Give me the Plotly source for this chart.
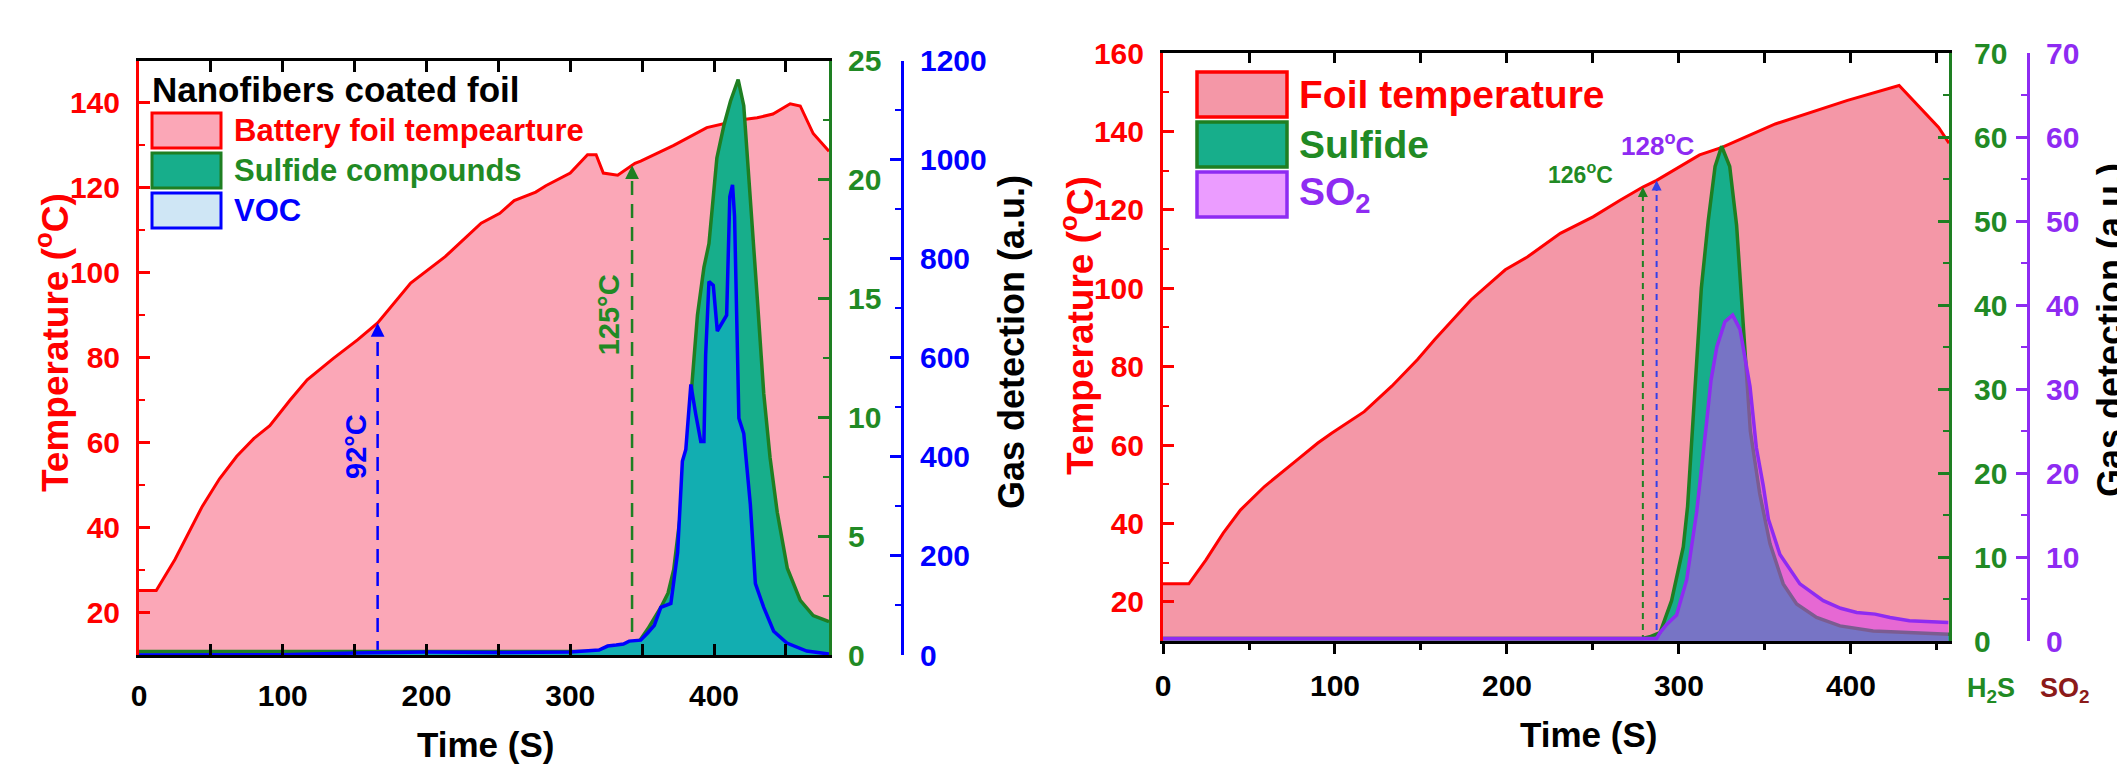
import numpy as np
import plotly.graph_objects as go

W, H = 2125, 776          # browser window
OFF = 8                   # default page body margin
FW, FH = W - OFF, H - OFF  # figure size so that it fits inside the window
FONT = "Liberation Sans, Arial, sans-serif"

# ---------------- data: left panel (nanofibers coated foil) ----------------
L_t_temp = [0, 12, 25, 35, 44, 56, 68, 80, 91, 105, 117, 135, 152, 166, 170, 189, 213, 238,
            251, 261, 276, 283, 300, 312, 318, 323, 333, 345, 349, 372, 395, 418, 430, 441,
            453, 460, 469, 480]
L_temp = [25.2, 25.2, 32.5, 39.0, 45.0, 51.5, 56.8, 61.0, 64.0, 70.0, 74.8, 79.8, 84.2, 88.2,
          89.8, 97.6, 103.8, 111.7, 114.0, 117.0, 119.0, 120.5, 123.5, 127.8, 127.8, 123.5,
          123.0, 125.8, 126.3, 130.0, 134.2, 136.0, 136.5, 137.4, 139.8, 139.3, 132.8, 128.6]

L_t_sulf = [0, 340, 343, 349, 354, 363, 368, 372, 379, 384, 388.5, 393, 396.5, 402, 407, 411.5,
            416.8, 420.7, 425, 430, 434.6, 439, 444, 451, 460, 469, 480]
L_sulf = [0.15, 0.15, 0.3, 0.66, 1.1, 2.0, 2.6, 3.6, 7.1, 11.0, 14.3, 16.3, 17.3, 20.9, 22.3,
          23.3, 24.2, 23.1, 19.6, 15.1, 11.0, 8.3, 6.0, 3.65, 2.3, 1.66, 1.4]

L_t_voc = [0, 100, 150, 200, 250, 300, 320, 326, 332, 337, 341, 349, 354, 358.5, 363, 370,
           374.7, 378, 380.4, 383.9, 387.3, 390.8, 393, 394.2, 396.5, 399.5, 402.3, 405.8,
           408.8, 411, 412.9, 414.3, 417.3, 420.7, 425.3, 428.8, 434.6, 441.5, 450.7, 464.5, 480]
L_voc = [0, 0.5, 4, 6, 5, 6, 10, 18, 20, 22, 28, 30, 45, 60, 96, 104, 207, 391, 415, 546, 486,
         431, 431, 606, 754, 746, 654, 670, 686, 925, 949, 885, 478, 447, 303, 144, 96, 48,
         24, 8, 2]

L_arrow_t = [166, 343]          # onset times marked by dashed arrows
L_arrow_label = ["92°C", "125°C"]

# ---------------- data: right panel ----------------
R_t_temp = [0, 15, 25, 35, 45, 59, 78, 90, 98, 117, 133, 148, 158, 179, 199, 212, 231, 250,
            266, 279, 287, 312, 325, 356, 398, 428, 451, 457]
R_temp = [24.6, 24.6, 30.7, 37.5, 43.4, 49.4, 56.2, 60.5, 63.0, 68.5, 75.0, 81.8, 86.9, 97.0,
          104.7, 108.0, 114.0, 118.2, 122.5, 125.8, 127.5, 134.0, 135.9, 141.9, 147.9, 151.7,
          141.0, 137.0]

R_t_sulf = [0, 279, 283, 289, 295.7, 302.5, 305, 307.4, 310, 313, 317, 321, 324.8, 329.5,
            333.5, 337.5, 341.5, 347, 352.9, 360.6, 368.4, 380, 393.6, 412.9, 432, 453.6, 457]
R_sulf = [0.3, 0.3, 0.5, 1.0, 4.8, 11.2, 16.0, 24.0, 32.0, 42.0, 50.0, 56.5, 58.9, 56.5, 49.5,
          37.5, 25.0, 17.5, 11.6, 6.8, 4.4, 2.8, 1.8, 1.2, 1.0, 0.8, 0.8]

R_t_so2 = [0, 287, 289, 293, 298.6, 304.5, 310.3, 313, 316.1, 318.6, 322, 326.7, 331.2, 335.5,
           339.5, 341.3, 345, 349, 352, 358.7, 370.3, 383.9, 394, 403.3, 414, 422.7, 434, 442,
           456.6]
R_so2 = [0.3, 0.3, 1.0, 2.0, 3.1, 7.3, 15.4, 20.0, 26.1, 31.0, 35.0, 38.0, 38.8, 37.1, 32.5,
         30.3, 23.0, 18.5, 14.5, 10.3, 6.8, 4.8, 3.9, 3.4, 3.2, 2.8, 2.4, 2.3, 2.2]

R_arrow_t = [279, 287]
R_arrow_label = ["126<sup>o</sup>C", "128<sup>o</sup>C"]

# ---------------- colours ----------------
RED = "#FF0000"
PINK_L = "#FBA7B7"
PINK_R = "#F497A7"
GREEN_LINE = "#1E7F22"
GREEN_TXT = "#218A24"
GREEN_FILL = "#17AE8B"
BLUE = "#0000FF"
VOC_FILL = "#12AEB1"
VOC_LEG = "#CFE6F5"
PURPLE = "#8E2BF2"
SO2_FILL = "rgba(215,58,255,0.5)"
DARKRED = "#8B1A1A"
ARROW_BLUE = "#3340E8"

TICK_SIZE = 30


def px(x):
    """window pixel x -> paper fraction"""
    return (x - OFF) / FW


def py(y):
    """window pixel y (from top) -> paper fraction"""
    return 1 - (y - OFF) / FH


def bold(size, color):
    return dict(family=FONT, size=size, color=color, weight="bold")


fig = go.Figure()

# left panel traces
fig.add_trace(go.Scatter(x=L_t_temp, y=L_temp, mode="lines", fill="tozeroy",
                         fillcolor=PINK_L, line=dict(color=RED, width=3),
                         xaxis="x", yaxis="y", showlegend=False))
fig.add_trace(go.Scatter(x=L_t_sulf, y=L_sulf, mode="lines", fill="tozeroy",
                         fillcolor=GREEN_FILL, line=dict(color=GREEN_LINE, width=3.5),
                         xaxis="x", yaxis="y2", showlegend=False))
fig.add_trace(go.Scatter(x=L_t_voc, y=L_voc, mode="lines", fill="tozeroy",
                         fillcolor=VOC_FILL, line=dict(color=BLUE, width=3.5),
                         xaxis="x", yaxis="y3", showlegend=False))

# right panel traces
fig.add_trace(go.Scatter(x=R_t_temp, y=R_temp, mode="lines", fill="tozeroy",
                         fillcolor=PINK_R, line=dict(color=RED, width=3),
                         xaxis="x2", yaxis="y4", showlegend=False))
fig.add_trace(go.Scatter(x=R_t_sulf, y=R_sulf, mode="lines", fill="tozeroy",
                         fillcolor=GREEN_FILL, line=dict(color=GREEN_LINE, width=3.5),
                         xaxis="x2", yaxis="y5", showlegend=False))
fig.add_trace(go.Scatter(x=R_t_so2, y=R_so2, mode="lines", fill="tozeroy",
                         fillcolor=SO2_FILL, line=dict(color=PURPLE, width=3.5),
                         xaxis="x2", yaxis="y6", showlegend=False))
# dummy trace to activate the top axis of the right panel
fig.add_trace(go.Scatter(x=[None], y=[None], xaxis="x3", yaxis="y4", showlegend=False))

# dashed onset lines
L_arrow_T = list(np.interp(L_arrow_t, L_t_temp, L_temp))
R_arrow_T = list(np.interp(R_arrow_t, R_t_temp, R_temp))
L_arrow_col = [BLUE, GREEN_LINE]
R_arrow_col = [GREEN_LINE, ARROW_BLUE]
for t, T, c in zip(L_arrow_t, L_arrow_T, L_arrow_col):
    fig.add_trace(go.Scatter(x=[t, t], y=[10, T - 2.5], mode="lines",
                             line=dict(color=c, width=2.5, dash="14px,9px"),
                             xaxis="x", yaxis="y", showlegend=False))
for t, T, c in zip(R_arrow_t, R_arrow_T, R_arrow_col):
    fig.add_trace(go.Scatter(x=[t, t], y=[10, T - 2.5], mode="lines",
                             line=dict(color=c, width=2, dash="6px,5px"),
                             xaxis="x2", yaxis="y4", showlegend=False))

annotations = []
for t, T, c in zip(L_arrow_t, L_arrow_T, L_arrow_col):
    annotations.append(dict(x=t, y=T, xref="x", yref="y", text="", showarrow=True,
                            ax=0, ay=14, arrowhead=2, arrowsize=1.1, arrowwidth=2.5,
                            arrowcolor=c))
for t, T, c in zip(R_arrow_t, R_arrow_T, R_arrow_col):
    annotations.append(dict(x=t, y=T, xref="x2", yref="y4", text="", showarrow=True,
                            ax=0, ay=12, arrowhead=2, arrowsize=1.0, arrowwidth=2,
                            arrowcolor=c))


def label(x, y, text, font, xref="paper", yref="paper", angle=0, xanchor="center"):
    return dict(x=x, y=y, xref=xref, yref=yref, text=text, textangle=angle,
                showarrow=False, xanchor=xanchor, yanchor="middle", font=font)


# onset labels
annotations += [
    label(151, 59, L_arrow_label[0], bold(29, BLUE), "x", "y", -90),
    label(327, 90, L_arrow_label[1], bold(29, GREEN_TXT), "x", "y", -90),
    label(243, 129.4, R_arrow_label[0], bold(23, GREEN_TXT), "x2", "y4"),
    label(288, 136.6, R_arrow_label[1], bold(26, PURPLE), "x2", "y4"),
]

# axis titles and labels
annotations += [
    label(px(52), py(343), "Temperature (<sup>o</sup>C)", bold(37, RED), angle=-90),
    label(px(485), py(744), "Time (S)", bold(35, "black")),
    label(px(1012), py(342), "Gas detection (a.u.)", bold(36, "black"), angle=-90),
    label(px(1077), py(326), "Temperature (<sup>o</sup>C)", bold(37, RED), angle=-90),
    label(px(1588), py(734), "Time (S)", bold(35, "black")),
    label(px(2111), py(330), "Gas detection (a.u.)", bold(36, "black"), angle=-90),
    label(px(1991), py(690), "H<sub>2</sub>S", bold(27, GREEN_TXT)),
    label(px(2065), py(690), "SO<sub>2</sub>", bold(27, DARKRED)),
]

# legends (drawn manually)
shapes = []
L_leg = [("Battery foil tempearture", PINK_L, RED, RED),
         ("Sulfide compounds", GREEN_FILL, GREEN_LINE, GREEN_TXT),
         ("VOC", VOC_LEG, BLUE, BLUE)]
L_rows = [(113, 148), (153, 188), (193, 228)]
for (text, fc, lc, tc), (y0, y1) in zip(L_leg, L_rows):
    shapes.append(dict(type="rect", xref="paper", yref="paper", x0=px(152), x1=px(221),
                       y0=py(y1), y1=py(y0), fillcolor=fc, line=dict(color=lc, width=3)))
    annotations.append(label(px(232), py((y0 + y1) / 2), text, bold(31, tc),
                             xanchor="left"))
annotations.append(label(px(150), py(89), "Nanofibers coated foil", bold(35, "black"),
                         xanchor="left"))

R_leg = [("Foil temperature", PINK_R, RED, RED),
         ("Sulfide", GREEN_FILL, GREEN_LINE, GREEN_TXT),
         ("SO<sub>2</sub>", SO2_FILL, PURPLE, PURPLE)]
R_rows = [(72, 117), (122, 167), (172, 217)]
for (text, fc, lc, tc), (y0, y1) in zip(R_leg, R_rows):
    shapes.append(dict(type="rect", xref="paper", yref="paper", x0=px(1197), x1=px(1287),
                       y0=py(y1), y1=py(y0), fillcolor=fc, line=dict(color=lc, width=3.5)))
    annotations.append(label(px(1297), py((y0 + y1) / 2), text, bold(39, tc),
                             xanchor="left"))


def yax(color, rng, dtick, mdtick, **kw):
    d = dict(range=rng, dtick=dtick, tick0=0, ticks="inside", ticklen=11, tickwidth=2.5,
             tickcolor=color, showline=True, linecolor=color, linewidth=3,
             tickfont=bold(TICK_SIZE, color), showgrid=False, zeroline=False,
             ticklabelstandoff=10, automargin=False,
             minor=dict(dtick=mdtick, tick0=0, ticks="inside", ticklen=6, tickwidth=2,
                        tickcolor=color, showgrid=False))
    d.update(kw)
    return d


L_dom_x = [px(139), px(829)]
L_dom_y = [py(655), py(60.5)]
R_dom_x = [px(1163), px(1949)]
R_dom_y = [py(641), py(53)]

fig.update_layout(
    width=FW, height=FH, autosize=False,
    margin=dict(l=0, r=0, t=0, b=0, autoexpand=False),
    paper_bgcolor="white", plot_bgcolor="white",
    showlegend=False,
    xaxis=dict(domain=L_dom_x, anchor="y", range=[0, 480], dtick=100, tick0=0,
               ticks="inside", ticklen=11, tickwidth=2.5, tickcolor="black",
               showline=True, linecolor="black", linewidth=3, mirror="allticks",
               tickfont=bold(TICK_SIZE, "black"), showgrid=False, zeroline=False,
               ticklabelstandoff=12, automargin=False,
               minor=dict(dtick=50, tick0=0, ticks="inside", ticklen=7, tickwidth=2.5,
                          tickcolor="black", showgrid=False)),
    yaxis=yax(RED, [10, 150], 20, 10, domain=L_dom_y, anchor="x"),
    yaxis2=yax(GREEN_LINE, [0, 25], 5, 2.5, overlaying="y", side="right", anchor="x",
               tickfont=bold(TICK_SIZE, GREEN_TXT)),
    yaxis3=yax(BLUE, [0, 1200], 200, 100, overlaying="y", side="right", anchor="free",
               position=px(902)),
    xaxis2=dict(domain=R_dom_x, anchor="y4", range=[0, 457], dtick=100, tick0=0,
                ticks="outside", ticklen=10, tickwidth=2.5, tickcolor="black",
                showline=True, linecolor="black", linewidth=3,
                tickfont=bold(TICK_SIZE, "black"), showgrid=False, zeroline=False,
                ticklabelstandoff=6, automargin=False,
                minor=dict(dtick=50, tick0=0, ticks="outside", ticklen=6, tickwidth=2.5,
                           tickcolor="black", showgrid=False)),
    xaxis3=dict(overlaying="x2", side="top", anchor="y4", range=[0, 457], dtick=50, tick0=0,
                ticks="inside", ticklen=10, tickwidth=2.5, tickcolor="black",
                showline=True, linecolor="black", linewidth=3, showticklabels=False,
                showgrid=False, zeroline=False, automargin=False),
    yaxis4=yax(RED, [10, 160], 20, 10, domain=R_dom_y, anchor="x2"),
    yaxis5=yax(GREEN_LINE, [0, 70], 10, 5, overlaying="y4", side="right", anchor="x2",
               tickfont=bold(TICK_SIZE, GREEN_TXT), ticklabelstandoff=16),
    yaxis6=yax(PURPLE, [0, 70], 10, 5, overlaying="y4", side="right", anchor="free",
               position=px(2028)),
    shapes=shapes,
    annotations=annotations,
)

fig.write_html("out.html")
